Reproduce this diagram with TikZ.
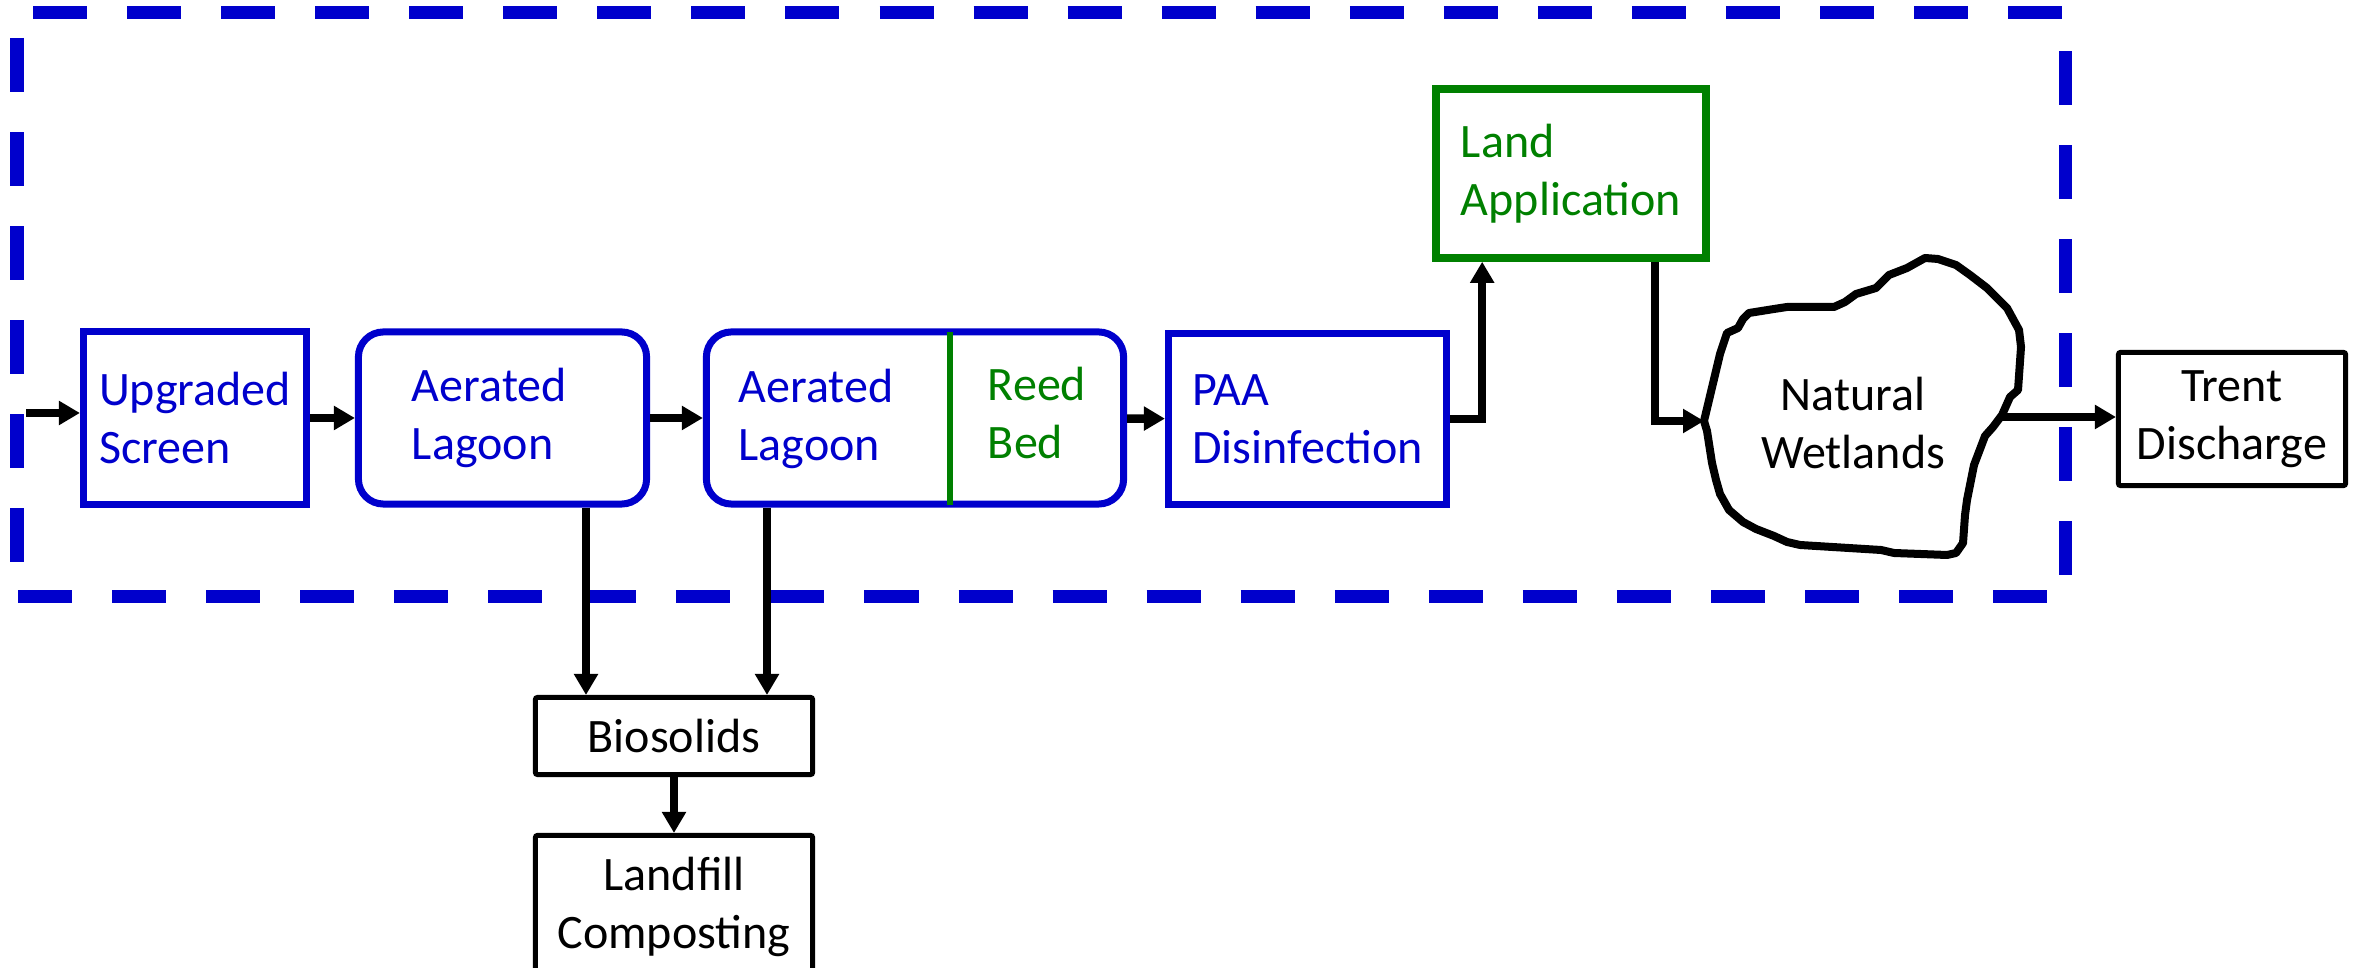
\documentclass[tikz,border=0pt]{standalone}
\usepackage{fontspec}
\setmainfont{Carlito}
\usetikzlibrary{arrows.meta,calc}
\definecolor{procblue}{RGB}{0,0,204}
\definecolor{procgreen}{RGB}{0,128,0}
\newcommand{\procfont}{\fontsize{13.66pt}{16.5pt}\selectfont}
\tikzset{
  boundary/.style={procblue, line width=0.13cm, dash pattern=on 0.54cm off 0.4cm},
  proc/.style={draw=procblue, line width=0.07cm, text=procblue, align=left,
    font=\procfont, inner sep=0pt, minimum height=1.72cm},
  lagoon/.style={proc, rounded corners=0.25cm},
  landbox/.style={proc, draw=procgreen, text=procgreen, line width=0.075cm},
  sinkbox/.style={draw=black, line width=0.05cm, rounded corners=0.02cm,
    align=center, font=\procfont, inner sep=0pt},
  label text/.style={align=left, font=\procfont, inner sep=0pt},
  flow/.style={line width=0.085cm, -{Triangle[length=0.21cm,width=0.23cm]}},
  wetland/.style={draw=black, fill=white, line width=0.08cm, line join=round},
}

\begin{document}
\begin{tikzpicture}[x=0.01cm,y=-0.01cm]
    \clip (0,0) rectangle (2361,968);

    % Dashed site boundary, one side at a time.
    \foreach \xa/\ya/\xb/\yb/\ph in {17/13/2065/13/0.78, 17/13/17/597/0.69,
        2065/13/2065/597/0.56, 17/597/2065/597/0.93}
        \draw[boundary, dash phase=\ph cm] (\xa,\ya) -- (\xb,\yb);

    % Treatment train.
    \node[proc, minimum width=2.23cm] (screen) at (195,418) {Upgraded\\Screen};
    \node[lagoon, minimum width=2.88cm, text width=1.81cm] (lag1) at (502.5,418) {Aerated\\Lagoon};
    \node[lagoon, minimum width=4.17cm] (lag2) at (915,418) {};
    \node[label text, text=procblue] (lag2txt) at (816,419) {Aerated\\Lagoon};
    \node[label text, text=procgreen] (reedtxt) at (1037,413) {Reed\\Bed};
    \coordinate (divtop) at (950,332);
    \coordinate (divbot) at (950,505);
    \draw[procgreen, line width=0.06cm] (divtop) -- (divbot);
    \node[proc, minimum width=2.78cm, minimum height=1.71cm] (paa) at (1307.5,419) {PAA\\Disinfection};
    \node[landbox, minimum width=2.70cm, minimum height=1.69cm] (land) at (1571,173.5) {Land\\Application};

    % Wetland outline.
    \draw[wetland] plot coordinates {(1704,421) (1720,354) (1727,333) (1738,328)
        (1743,319) (1749,313) (1774,309) (1787,307) (1834,307) (1845,302)
        (1856,294) (1876,288) (1889,275) (1907,268) (1925,258) (1938,259)
        (1956,265) (1970,275) (1987,288) (2001,302) (2007,308) (2019,330)
        (2021,347) (2018,390) (2010,397) (2002,415) (1993,427) (1985,436)
        (1974,465) (1967,500) (1965,515) (1963,543) (1956,553) (1947,555)
        (1894,553) (1881,550) (1800,545) (1787,542) (1774,536) (1756,529)
        (1743,522) (1729,510) (1720,494) (1716,480) (1712,463) (1707,431)} -- cycle;
    \node[label text, align=center] (wettxt) at (1853,423) {Natural\\Wetlands};
    \coordinate (wetin) at (1704,421);
    \coordinate (wetout) at (2002,417);

    % Outlets.
    \node[sinkbox, minimum width=2.27cm, minimum height=1.33cm] (trent) at (2232,419) {Trent\\Discharge};
    \node[sinkbox, minimum width=2.77cm, minimum height=0.77cm] (bio) at (674,736) {Biosolids};
    \node[sinkbox, minimum width=2.77cm, minimum height=1.43cm] (landfill) at (674,907) {Landfill\\Composting};

    % Flows.
    \coordinate (in) at (26,413);
    \draw[flow] (in) -- (in -| screen.west);
    \draw[flow] (screen) -- (lag1);
    \draw[flow] (lag1) -- (lag2);
    \draw[flow] (lag2) -- (paa);
    \coordinate (landup) at ($(land.south west)+(50,0)$);
    \draw[flow] (paa.east) -| (landup);
    \coordinate (landdown) at ($(land.south west)+(223,0)$);
    \draw[flow] (landdown) |- (wetin);
    \draw[flow] (wetout) -- (wetout -| trent.west);

    % Sludge lines.
    \coordinate (s1) at (586,0);
    \coordinate (s2) at (767,0);
    \draw[flow] (lag1.south -| s1) -- (bio.north -| s1);
    \draw[flow] (lag2.south -| s2) -- (bio.north -| s2);
    \draw[flow] (bio) -- (landfill);
\end{tikzpicture}
\end{document}
